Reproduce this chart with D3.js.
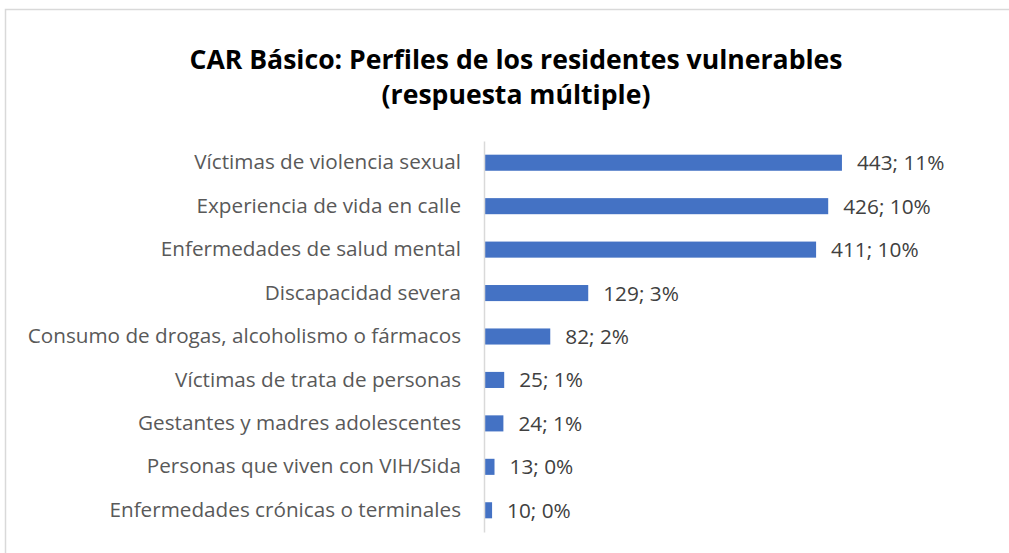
<!DOCTYPE html>
<html lang="es">
<head>
<meta charset="utf-8">
<title>CAR Básico: Perfiles de los residentes vulnerables</title>
<script src="https://d3js.org/d3.v7.min.js"></script>
<style>
  html, body { margin: 0; padding: 0; background: #fff; }
  #chart { width: 1009px; height: 553px; }
  text { font-family: "Open Sans", Lato, sans-serif; }
</style>
</head>
<body>
<div id="chart"></div>
<script>
// data
const categories = [
  "Víctimas de violencia sexual",
  "Experiencia de vida en calle",
  "Enfermedades de salud mental",
  "Discapacidad severa",
  "Consumo de drogas, alcoholismo o fármacos",
  "Víctimas de trata de personas",
  "Gestantes y madres adolescentes",
  "Personas que viven con VIH/Sida",
  "Enfermedades crónicas o terminales"
]
const counts = [443, 426, 411, 129, 82, 25, 24, 13, 10]
const shares = ["11%", "10%", "10%", "3%", "2%", "1%", "1%", "0%", "0%"]
const titleLines = ["CAR Básico: Perfiles de los residentes vulnerables", "(respuesta múltiple)"]

const rows = categories.map((c, i) => ({ cat: c, value: counts[i], pct: shares[i] }))

const W = 1009, H = 553
const margin = { top: 141, right: 121, bottom: 21, left: 484 }

const svg = d3.select("#chart").append("svg")
    .attr("width", W)
    .attr("height", H)

// chart frame
svg.append("rect")
    .attr("x", 5.5).attr("y", 9.5)
    .attr("width", W + 10).attr("height", H + 10)
    .attr("fill", "none")
    .attr("stroke", "#d9d9d9")
    .attr("stroke-width", 1.5)

// title
svg.append("g").selectAll("text")
    .data(titleLines)
    .join("text")
    .attr("x", 516)
    .attr("y", (d, i) => 69 + i * 35)
    .attr("text-anchor", "middle")
    .attr("font-size", 26.6)
    .attr("font-weight", 700)
    .attr("fill", "#000")
    .text(d => d)

const x = d3.scaleLinear()
    .domain([0, 500])
    .range([margin.left, W - margin.right])

const y = d3.scaleBand()
    .domain(categories)
    .range([margin.top, H - margin.bottom])
    .paddingInner(0.63)
    .paddingOuter(0.315)

// bars
svg.append("g").selectAll("rect")
    .data(rows)
    .join("rect")
    .attr("x", x(0))
    .attr("y", d => y(d.cat))
    .attr("width", d => x(d.value) - x(0))
    .attr("height", y.bandwidth())
    .attr("fill", "#4472c4")

// value labels
svg.append("g").selectAll("text")
    .data(rows)
    .join("text")
    .attr("x", d => x(d.value) + 15)
    .attr("y", d => y(d.cat) + y.bandwidth() / 2)
    .attr("dy", "0.36em")
    .attr("font-size", 20.8)
    .attr("fill", "#404040")
    .text(d => d.value + "; " + d.pct)

// category axis
const yAxis = svg.append("g")
    .attr("transform", "translate(" + x(0) + ",0)")
    .call(d3.axisLeft(y).tickSize(0).tickPadding(23))

yAxis.select(".domain")
    .attr("stroke", "#d9d9d9")
    .attr("stroke-width", 1.5)
yAxis.selectAll("text")
    .attr("font-family", "'Open Sans', Lato, sans-serif")
    .attr("font-size", 20.7)
    .attr("fill", "#595959")
</script>
</body>
</html>
